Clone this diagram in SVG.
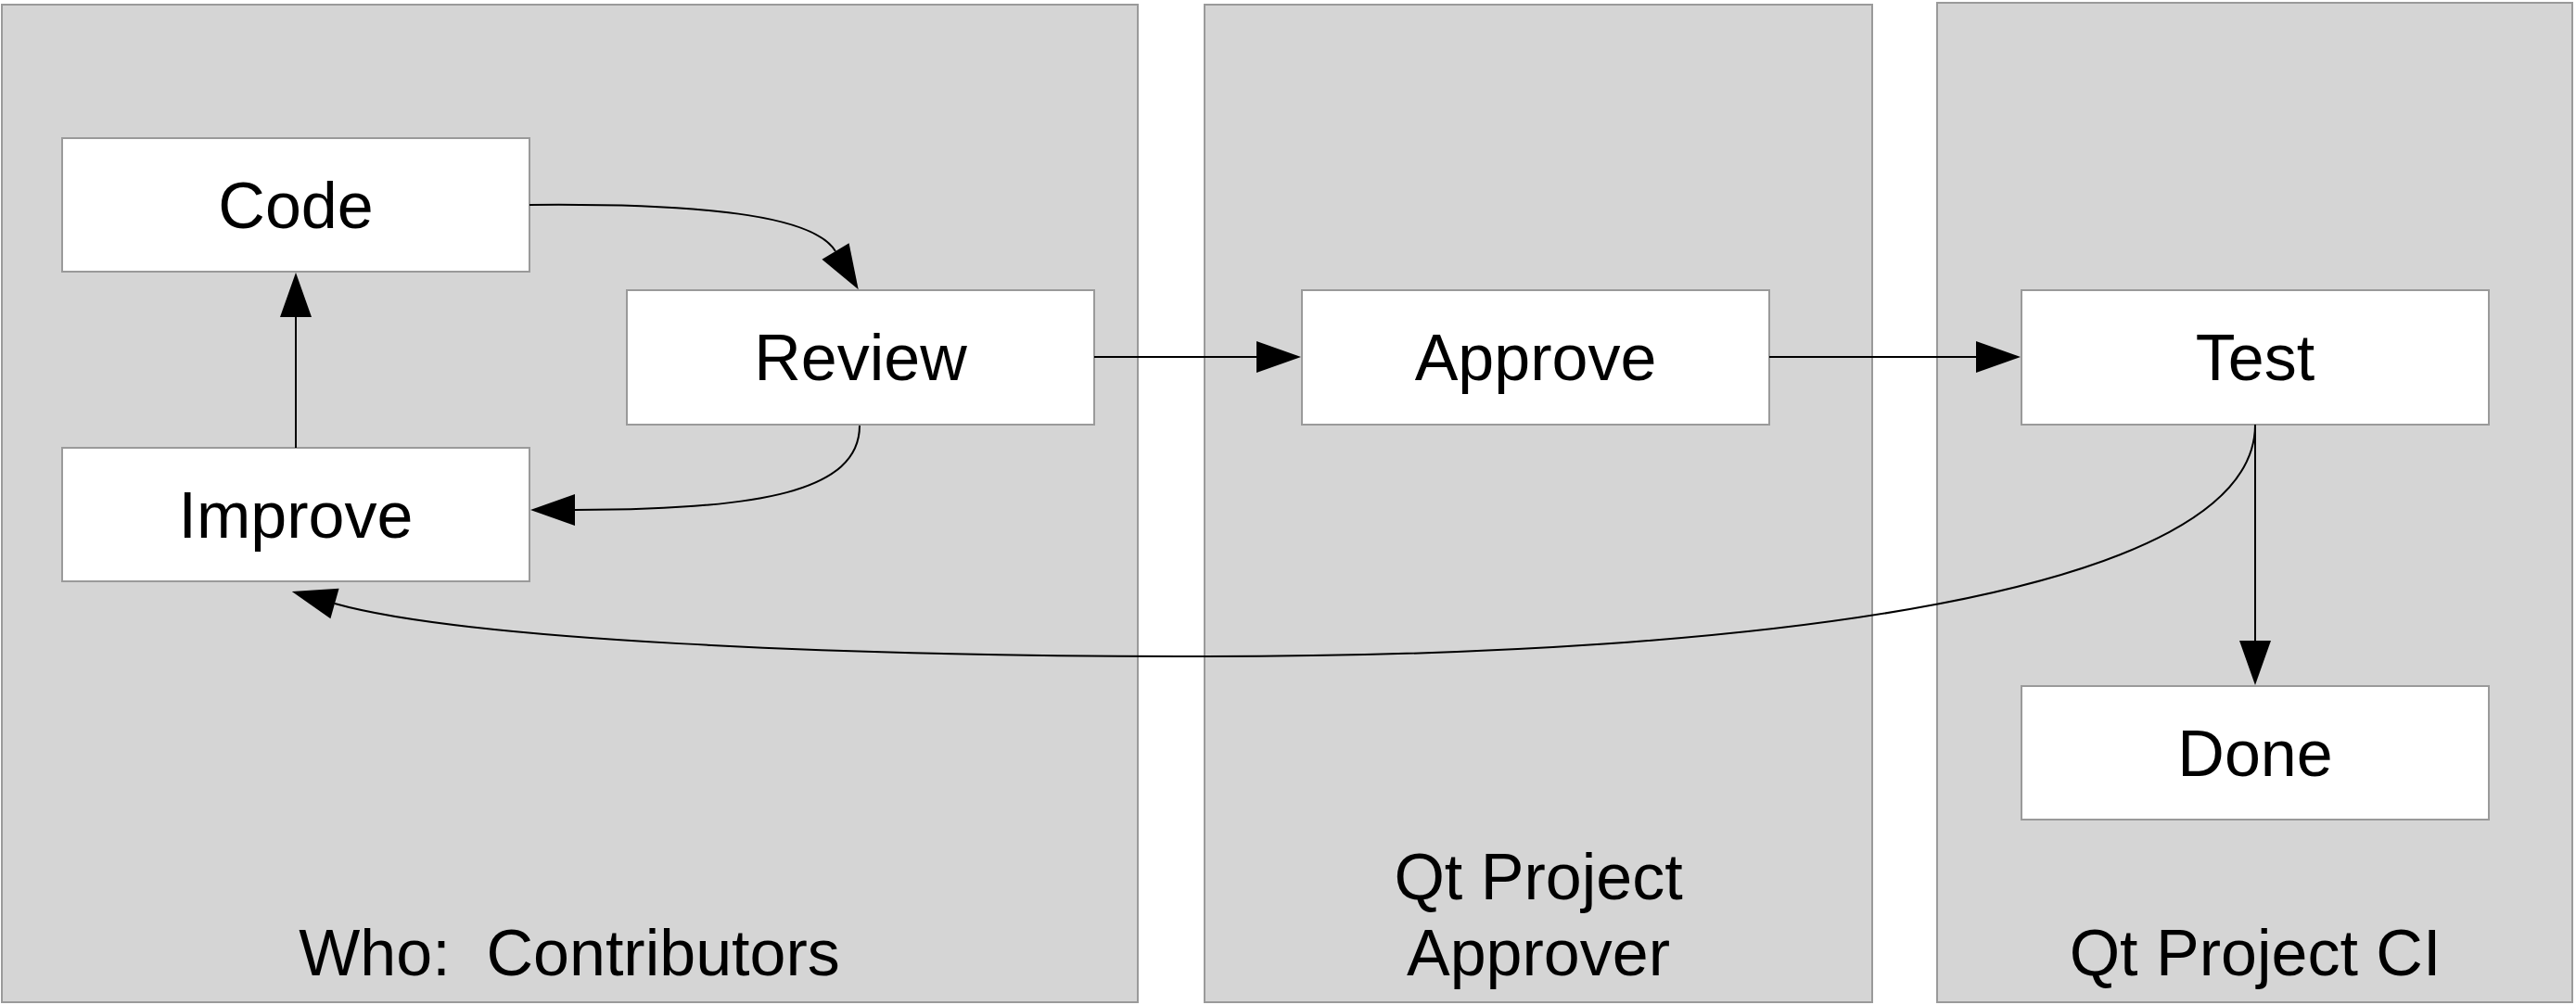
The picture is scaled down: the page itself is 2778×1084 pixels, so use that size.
<svg xmlns="http://www.w3.org/2000/svg" width="2778" height="1084" viewBox="0 0 2778 1084">
  <style>
    .lane { fill: #d5d5d5; stroke: #9a9a9a; stroke-width: 2; }
    .box { fill: #ffffff; stroke: #9a9a9a; stroke-width: 2; }
    .lbl { font-family: "Liberation Sans", Arial, sans-serif; font-size: 70px; fill: #000000; text-anchor: middle; }
    .edge { fill: none; stroke: #000000; stroke-width: 2; marker-end: url(#ah); }
  </style>
  <defs>
    <marker id="ah" markerUnits="userSpaceOnUse" markerWidth="48" markerHeight="34" refX="0" refY="17" orient="auto" overflow="visible">
      <path d="M0,0 L48,17 L0,34 z" fill="#000000"/>
    </marker>
  </defs>
  <rect width="2778" height="1084" fill="#ffffff"/>

  <g id="lane-contributors">
    <rect class="lane" x="2" y="5" width="1225" height="1076"/>
    <text class="lbl" x="614" y="1052" xml:space="preserve">Who:  Contributors</text>
  </g>
  <g id="lane-approver">
    <rect class="lane" x="1299" y="5" width="720" height="1076"/>
    <text class="lbl" x="1659" y="970">Qt Project</text>
    <text class="lbl" x="1659" y="1052">Approver</text>
  </g>
  <g id="lane-ci">
    <rect class="lane" x="2089" y="3" width="685" height="1078"/>
    <text class="lbl" x="2432" y="1052">Qt Project CI</text>
  </g>

  <g id="node-code">
    <rect class="box" x="67" y="149" width="504" height="144"/>
    <text class="lbl" x="319" y="246">Code</text>
  </g>
  <g id="node-review">
    <rect class="box" x="676" y="313" width="504" height="145"/>
    <text class="lbl" x="928" y="410">Review</text>
  </g>
  <g id="node-improve">
    <rect class="box" x="67" y="483" width="504" height="144"/>
    <text class="lbl" x="319" y="580">Improve</text>
  </g>
  <g id="node-approve">
    <rect class="box" x="1404" y="313" width="504" height="145"/>
    <text class="lbl" x="1656" y="410">Approve</text>
  </g>
  <g id="node-test">
    <rect class="box" x="2180" y="313" width="504" height="145"/>
    <text class="lbl" x="2432" y="410">Test</text>
  </g>
  <g id="node-done">
    <rect class="box" x="2180" y="740" width="504" height="144"/>
    <text class="lbl" x="2432" y="837">Done</text>
  </g>

  <g id="connectors">
    <path class="edge" d="M571,221 C780,219 880,236 901,271"/>
    <path class="edge" d="M927,459 C927,530 820,550 620,550"/>
    <path class="edge" d="M319,483 L319,342"/>
    <path class="edge" d="M1180,385 L1355,385"/>
    <path class="edge" d="M1908,385 L2131,385"/>
    <path class="edge" d="M2432,458 L2432,691"/>
    <path class="edge" d="M2432,458 C2432,640 1900,708 1300,708 C900,708 500,690 361,651"/>
  </g>
</svg>
